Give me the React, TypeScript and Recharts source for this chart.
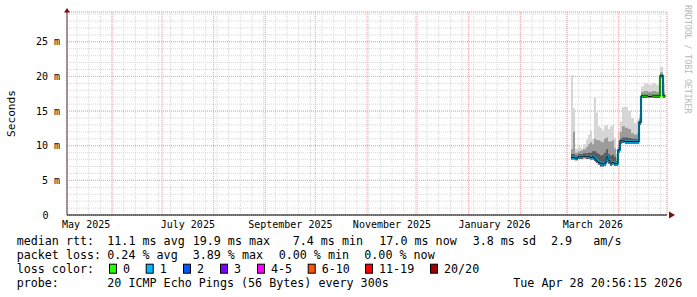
import React from 'react';
import {
  ComposedChart, Area, Line, XAxis, YAxis, CartesianGrid, ReferenceDot, ReferenceLine,
} from 'recharts';

// time window of the graph (360 days)
const START = Date.UTC(2025, 4, 5);
const END = Date.UTC(2026, 3, 30);
const Y_MAX = 29.3;

const TIMES = [
  '2026-03-03T10:00Z', '2026-03-04T14:00Z', '2026-03-05T19:00Z', '2026-03-07T14:00Z',
  '2026-03-09T10:00Z', '2026-03-10T14:00Z', '2026-03-12T10:00Z', '2026-03-13T14:00Z',
  '2026-03-14T19:00Z', '2026-03-16T00:00Z', '2026-03-17T05:00Z', '2026-03-18T10:00Z',
  '2026-03-19T14:00Z', '2026-03-20T19:00Z', '2026-03-22T00:00Z', '2026-03-23T05:00Z',
  '2026-03-24T10:00Z', '2026-03-25T14:00Z', '2026-03-26T19:00Z', '2026-03-28T00:00Z',
  '2026-03-29T05:00Z', '2026-03-30T10:00Z', '2026-03-31T14:00Z', '2026-04-01T19:00Z',
  '2026-04-03T00:00Z', '2026-04-04T19:00Z', '2026-04-06T14:00Z', '2026-04-08T10:00Z',
  '2026-04-10T05:00Z', '2026-04-12T00:00Z', '2026-04-13T05:00Z', '2026-04-14T10:00Z',
  '2026-04-16T05:00Z', '2026-04-18T14:00Z', '2026-04-21T00:00Z', '2026-04-23T10:00Z',
  '2026-04-25T19:00Z', '2026-04-27T14:00Z', '2026-04-28T19:00Z',
];

// median rtt in ms
const MEDIAN = [
  8.3, 8.3, 8.2, 8.4, 8.4, 8.5, 8.4, 8.5, 8.3, 8.4, 8.1, 7.8, 7.6, 7.4, 7.4, 7.5,
  8.4, 7.9, 7.5, 7.6, 7.4, 7.4, 9.4, 10.7, 10.7, 10.6, 10.6, 10.6, 10.6, 10.6, 13.4,
  17.2, 17.2, 17.1, 17.2, 17.2, 20.1, 17.2, 17.1,
];

// loss colour class per sample (0 = no loss, 1 = one lost ping)
const LOSS = [
  1, 1, 1, 0, 1, 1, 1, 1, 1, 1, 1, 1, 1, 1, 1, 1,
  1, 1, 1, 1, 1, 0, 1, 1, 1, 1, 1, 1, 1, 1, 1,
  0, 0, 0, 0, 0, 1, 0, 0,
];

// smoke: fastest ping, then tops of the dark, medium and light bands
const SMOKE_LOW = [
  8.0, 8.0, 7.9, 8.1, 8.1, 8.2, 8.1, 8.1, 8.0, 8.0, 7.8, 7.5, 7.2, 7.0, 7.0, 7.1,
  7.6, 7.4, 7.1, 7.2, 7.1, 7.1, 9.0, 10.3, 10.4, 10.3, 10.3, 10.3, 10.3, 10.3, 13.0,
  16.9, 16.9, 16.9, 16.9, 16.9, 19.8, 16.9, 16.8,
];
const SMOKE_DARK = [
  8.8, 8.8, 8.6, 8.8, 8.8, 8.9, 8.9, 9.0, 9.0, 9.2, 9.2, 9.0, 8.8, 8.6, 8.7, 9.0,
  9.5, 8.8, 8.6, 8.7, 8.4, 7.8, 9.8, 11.0, 11.2, 11.2, 11.1, 11.0, 11.0, 11.0, 13.6,
  17.4, 17.4, 17.4, 17.4, 17.4, 20.3, 17.4, 17.3,
];
const SMOKE_MID = [
  9.5, 12.0, 9.0, 9.2, 9.3, 9.5, 9.8, 10.2, 10.5, 10.2, 11.0, 10.8, 10.8, 10.6, 10.5, 11.0,
  11.2, 10.6, 10.6, 10.8, 9.6, 8.2, 10.8, 12.0, 12.8, 12.6, 12.4, 11.8, 11.6, 11.8, 14.0,
  17.8, 17.9, 17.8, 17.9, 17.8, 20.6, 17.8, 17.6,
];
const SMOKE_MAX = [
  20.2, 15.4, 9.6, 9.8, 9.6, 10.2, 10.9, 11.6, 12.2, 11.0, 17.0, 14.8, 12.8, 12.6, 12.2, 12.9,
  13.0, 12.4, 12.8, 13.0, 11.2, 8.8, 12.0, 13.5, 15.6, 15.6, 15.0, 14.0, 13.3, 13.8, 14.5,
  18.6, 19.0, 18.8, 19.0, 18.8, 21.4, 19.0, 18.6,
];

const LOSS_COLORS = ['#26ff00', '#00b8ff', '#0059ff', '#7e00ff', '#ff00ff', '#ff5500', '#ff0000', '#a10000'];
const LOSS_NAMES = ['0', '1', '2', '3', '4-5', '6-10', '11-19', '20/20'];

const MONTH_LABELS = ['May 2025', 'July 2025', 'September 2025', 'November 2025', 'January 2026', 'March 2026'];
const MONTH_LABEL_AT = [
  Date.UTC(2025, 4, 16, 12), Date.UTC(2025, 6, 16, 12), Date.UTC(2025, 8, 16),
  Date.UTC(2025, 10, 16), Date.UTC(2026, 0, 16, 12), Date.UTC(2026, 2, 16, 12),
];

const Y_MAJOR = [0, 5, 10, 15, 20, 25];

const DAY = 86400000;
// Jun 2025 .. Mar 2026 go through the grid; Apr 2026 gets a reference line
// (the grid put the last month tick at the wrong place)
const monthStarts: number[] = [];
for (let m = 5; m <= 14; m++) monthStarts.push(Date.UTC(2025, m, 1));
const APRIL_START = Date.UTC(2026, 3, 1);
const weekTicks: number[] = [];
for (let t = Date.UTC(2025, 4, 11); t < END; t += 7 * DAY) weekTicks.push(t);
const yMinor: number[] = [];
for (let v = 0; v <= 29; v++) yMinor.push(v);

const rows = TIMES.map((t, i) => {
  const row: any = {
    t: Date.parse(t),
    light: [SMOKE_LOW[i], SMOKE_MAX[i]],
    mid: [SMOKE_LOW[i], SMOKE_MID[i]],
    dark: [SMOKE_LOW[i], SMOKE_DARK[i]],
    median: MEDIAN[i],
  };
  [0, 1].forEach((c) => {
    row['loss' + c] = LOSS[i] === c || (i > 0 && LOSS[i - 1] === c) ? MEDIAN[i] : null;
  });
  return row;
});

const MONO = '"DejaVu Sans Mono", monospace';

const XTick = (props: any) => {
  const { x, y, index } = props;
  return (
    <text x={x} y={y} dy={13} textAnchor="middle" fontFamily={MONO} fontSize={10} fill="#000">
      {MONTH_LABELS[index]}
    </text>
  );
};

const YTick = (props: any) => {
  const { x, y, payload } = props;
  const v = payload.value;
  return (
    <text x={v === 0 ? x - 18.5 : x - 7} y={y} dy={3.6} textAnchor="end" fontFamily={MONO} fontSize={10} fill="#000">
      {v === 0 ? '0' : `${v} m`}
    </text>
  );
};

const RightArrow = (p: any) => (
  <polygon points={`${p.cx + 2},${p.cy - 3.5} ${p.cx + 8},${p.cy} ${p.cx + 2},${p.cy + 3.5}`} fill="#7a1010" />
);
const UpArrow = (p: any) => (
  <polygon points={`${p.cx - 3},${p.cy + 0.5} ${p.cx + 3},${p.cy + 0.5} ${p.cx},${p.cy - 4}`} fill="#7a1010" />
);

const lines = [
  { y: 244.7, parts: [[16.7, 'median rtt:'], [107.3, '11.1 ms avg'], [192.7, '19.9 ms max'], [292.7, '7.4 ms min'], [379.3, '17.0 ms now'], [472.7, '3.8 ms sd'], [551, '2.9'], [593.3, 'am/s']] },
  { y: 258.8, parts: [[16.7, 'packet loss:'], [107.3, '0.24 % avg'], [192.7, '3.89 % max'], [278.7, '0.00 % min'], [364.3, '0.00 % now']] },
  { y: 287, parts: [[16.7, 'probe:'], [107.3, '20 ICMP Echo Pings (56 Bytes) every 300s'], [513.3, 'Tue Apr 28 20:56:15 2026']] },
];
const BOX_X = [109, 145.7, 183, 220, 257, 307.7, 365, 430];

export default function App() {
  return (
    <div style={{ position: 'absolute', left: 0, top: 0, width: 697, height: 297, background: '#fff' }}>
      <ComposedChart width={697} height={297} data={rows} margin={{ top: 12, right: 30, left: 0, bottom: 62 }}>
        <XAxis xAxisId="wk" type="number" dataKey="t" domain={[START, END]} ticks={weekTicks} interval={0} allowDataOverflow hide />
        <XAxis xAxisId="mo" type="number" dataKey="t" domain={[START, END]} ticks={monthStarts} interval={0} allowDataOverflow hide />
        <XAxis
          xAxisId="lbl" type="number" dataKey="t" domain={[START, END]} ticks={MONTH_LABEL_AT} interval={0}
          allowDataOverflow height={20} tickSize={0} tickMargin={0} tick={<XTick />}
          axisLine={{ stroke: '#000', strokeWidth: 1 }}
        />
        <YAxis yAxisId="minor" type="number" domain={[0, Y_MAX]} ticks={yMinor} interval={0} allowDataOverflow hide />
        <YAxis
          yAxisId="major" type="number" domain={[0, Y_MAX]} ticks={Y_MAJOR} interval={0} allowDataOverflow
          width={67} tickSize={0} tickMargin={0} tick={<YTick />} axisLine={{ stroke: '#444', strokeWidth: 1 }}
        />
        <CartesianGrid xAxisId="wk" yAxisId="minor" stroke="#d8d8d8" strokeDasharray="1 1" />
        <CartesianGrid xAxisId="mo" yAxisId="major" vertical={false} stroke="#f2a0a0" strokeDasharray="1 1" />
        <CartesianGrid xAxisId="mo" yAxisId="major" horizontal={false} stroke="#f2a0a0" strokeDasharray="1 1" />
        <ReferenceLine xAxisId="lbl" yAxisId="major" x={APRIL_START} stroke="#f2a0a0" strokeDasharray="1 1" />

        <Area xAxisId="lbl" yAxisId="major" type="stepAfter" dataKey="light" stroke="none" fill="#d6d6d6" fillOpacity={1} isAnimationActive={false} />
        <Area xAxisId="lbl" yAxisId="major" type="stepAfter" dataKey="mid" stroke="none" fill="#9c9c9c" fillOpacity={1} isAnimationActive={false} />
        <Area xAxisId="lbl" yAxisId="major" type="stepAfter" dataKey="dark" stroke="none" fill="#5c5c5c" fillOpacity={1} isAnimationActive={false} />

        {[0, 1].map((c) => (
          <Line
            key={c} xAxisId="lbl" yAxisId="major" type="stepAfter" dataKey={'loss' + c}
            stroke={LOSS_COLORS[c]} strokeWidth={2.2} dot={false} connectNulls={false} isAnimationActive={false}
          />
        ))}
        <Line xAxisId="lbl" yAxisId="major" type="stepAfter" dataKey="median" stroke="#111" strokeWidth={1} dot={false} isAnimationActive={false} />

        <ReferenceDot xAxisId="lbl" yAxisId="major" x={END} y={0} ifOverflow="visible" shape={RightArrow} />
        <ReferenceDot xAxisId="lbl" yAxisId="major" x={START} y={Y_MAX} ifOverflow="visible" shape={UpArrow} />
      </ComposedChart>

      <svg width={697} height={297} style={{ position: 'absolute', left: 0, top: 0, pointerEvents: 'none' }}>
        <text
          x={11} y={113.5} transform="rotate(-90 11 113.5)" textAnchor="middle" dominantBaseline="central"
          fontFamily={MONO} fontSize={11.2} fill="#000"
        >
          Seconds
        </text>
        <text
          x={688} y={5} transform="rotate(90 688 5)" textAnchor="start" dominantBaseline="central"
          fontFamily={MONO} fontSize={8.2} fill="#b8b8b8"
        >
          RRDTOOL / TOBI OETIKER
        </text>
        {lines.map((ln, i) => (
          <g key={i}>
            {ln.parts.map(([x, s], j) => (
              <text key={j} x={x as number} y={ln.y} fontFamily={MONO} fontSize={11.7} fill="#000" style={{ whiteSpace: 'pre' }}>
                {s}
              </text>
            ))}
          </g>
        ))}
        <text x={16.7} y={273} fontFamily={MONO} fontSize={11.7} fill="#000">loss color:</text>
        {LOSS_NAMES.map((name, i) => (
          <g key={name}>
            <rect x={BOX_X[i] + 0.5} y={264.2} width={7} height={9} fill={LOSS_COLORS[i]} stroke="#000" strokeWidth={1} />
            <text x={BOX_X[i] + 14} y={273} fontFamily={MONO} fontSize={11.7} fill="#000">{name}</text>
          </g>
        ))}
      </svg>
    </div>
  );
}
